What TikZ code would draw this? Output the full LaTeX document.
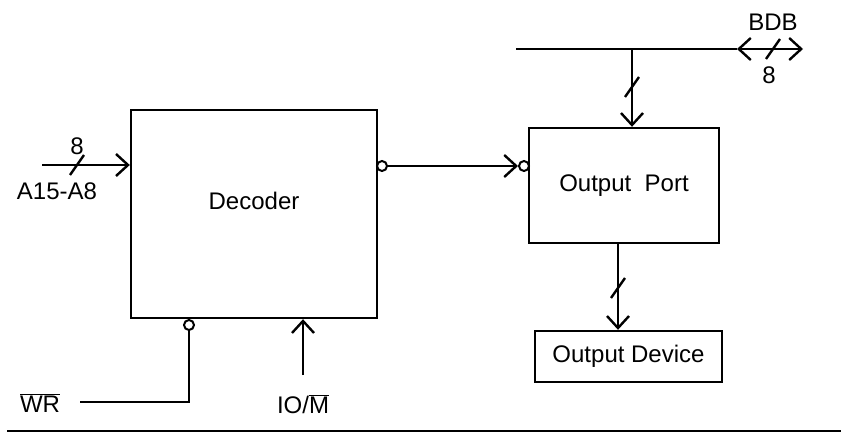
\documentclass[tikz,border=0pt]{standalone}
\usepackage{fontspec}
\setmainfont{Liberation Sans}
\usetikzlibrary{arrows.meta,calc}

\tikzset{
    blk/.style={draw, line width=2.4pt, rectangle, inner sep=0pt},
    sig/.style={line width=2.4pt},
    tip/.style={-{Straight Barb[length=12pt,width=22pt,line width=2.4pt]}},
    bubble/.style={draw, line width=2pt, circle, fill=white, minimum size=10pt, inner sep=0pt},
    lbl/.style={inner sep=0pt, font=\fontsize{24}{28}\selectfont}
}
% marca de bus (trazo inclinado)
\newcommand{\busmark}[1]{\draw[sig] ($(#1)+(-7,-10)$) -- ($(#1)+(7,10)$);}

\begin{document}
\begin{tikzpicture}[x=1pt, y=1pt]
        \useasboundingbox (0,0) rectangle (841,432);

        % Bloques
        \node[blk, minimum width=246pt, minimum height=208pt] (dec) at (254,218) {};
        \node[lbl] (declbl) at (254,231) {Decoder};
        \node[blk, minimum width=190pt, minimum height=115pt, lbl] (port) at (624,246.5) {Output\ \ Port};
        \node[blk, minimum width=187pt, minimum height=51pt, lbl] (dev) at (628.5,75.5) {Output Device};

        % Entrada A15-A8
        \coordinate (ain) at (42,267);
        \draw[sig, tip] (ain) -- (ain -| dec.west);
        \coordinate (amark) at (77,267);
        \busmark{amark}
        \node[lbl] (a8) at (77,286) {8};
        \node[lbl] (alab) at (57,241) {A15-A8};

        % Salida del decodificador al puerto
        \node[bubble] (decout) at (382,266) {};
        \node[bubble] (portin) at (524,266) {};
        \draw[sig, tip] (decout) -- (portin);

        % Bus de datos BDB
        \coordinate (busl) at (516,383);
        \coordinate (busr) at (803,383);
        \coordinate (busc) at (737,383);
        \draw[sig] (busl) -- (busc);
        \draw[sig, {Straight Barb[length=12pt,width=22pt,line width=2.4pt]}-{Straight Barb[length=12pt,width=22pt,line width=2.4pt]}] (busc) -- (busr);
        \coordinate (bmark) at (773,383);
        \busmark{bmark}
        \node[lbl] (bdb) at (773,410) {BDB};
        \node[lbl] (b8) at (769,357) {8};

        % Bus al puerto de salida
        \coordinate (tap) at (632,383);
        \draw[sig, tip] (tap) -- (tap |- port.north);
        \coordinate (pmark) at (632,345);
        \busmark{pmark}

        % Puerto al dispositivo
        \coordinate (pout) at (618,189);
        \draw[sig, tip] (pout) -- (pout |- dev.north);
        \coordinate (dmark) at (618,144);
        \busmark{dmark}

        % Senal WR
        \node[bubble] (wrb) at (189,107) {};
        \coordinate (wrc) at (189,30);
        \coordinate (wrend) at (80,30);
        \draw[sig] (wrb) -- (wrc) -- (wrend);
        \node[lbl] (wr) at (40,29) {$\overline{\hbox{WR}}$};

        % Senal IO/M
        \coordinate (iom) at (303,57);
        \draw[sig, tip] (iom) -- (iom |- dec.south);
        \node[lbl] (iolab) at (303,28) {IO/$\overline{\hbox{M}}$};

        % Linea inferior
        \draw[sig] (7,1) -- (841,1);
    \end{tikzpicture}
\end{document}
